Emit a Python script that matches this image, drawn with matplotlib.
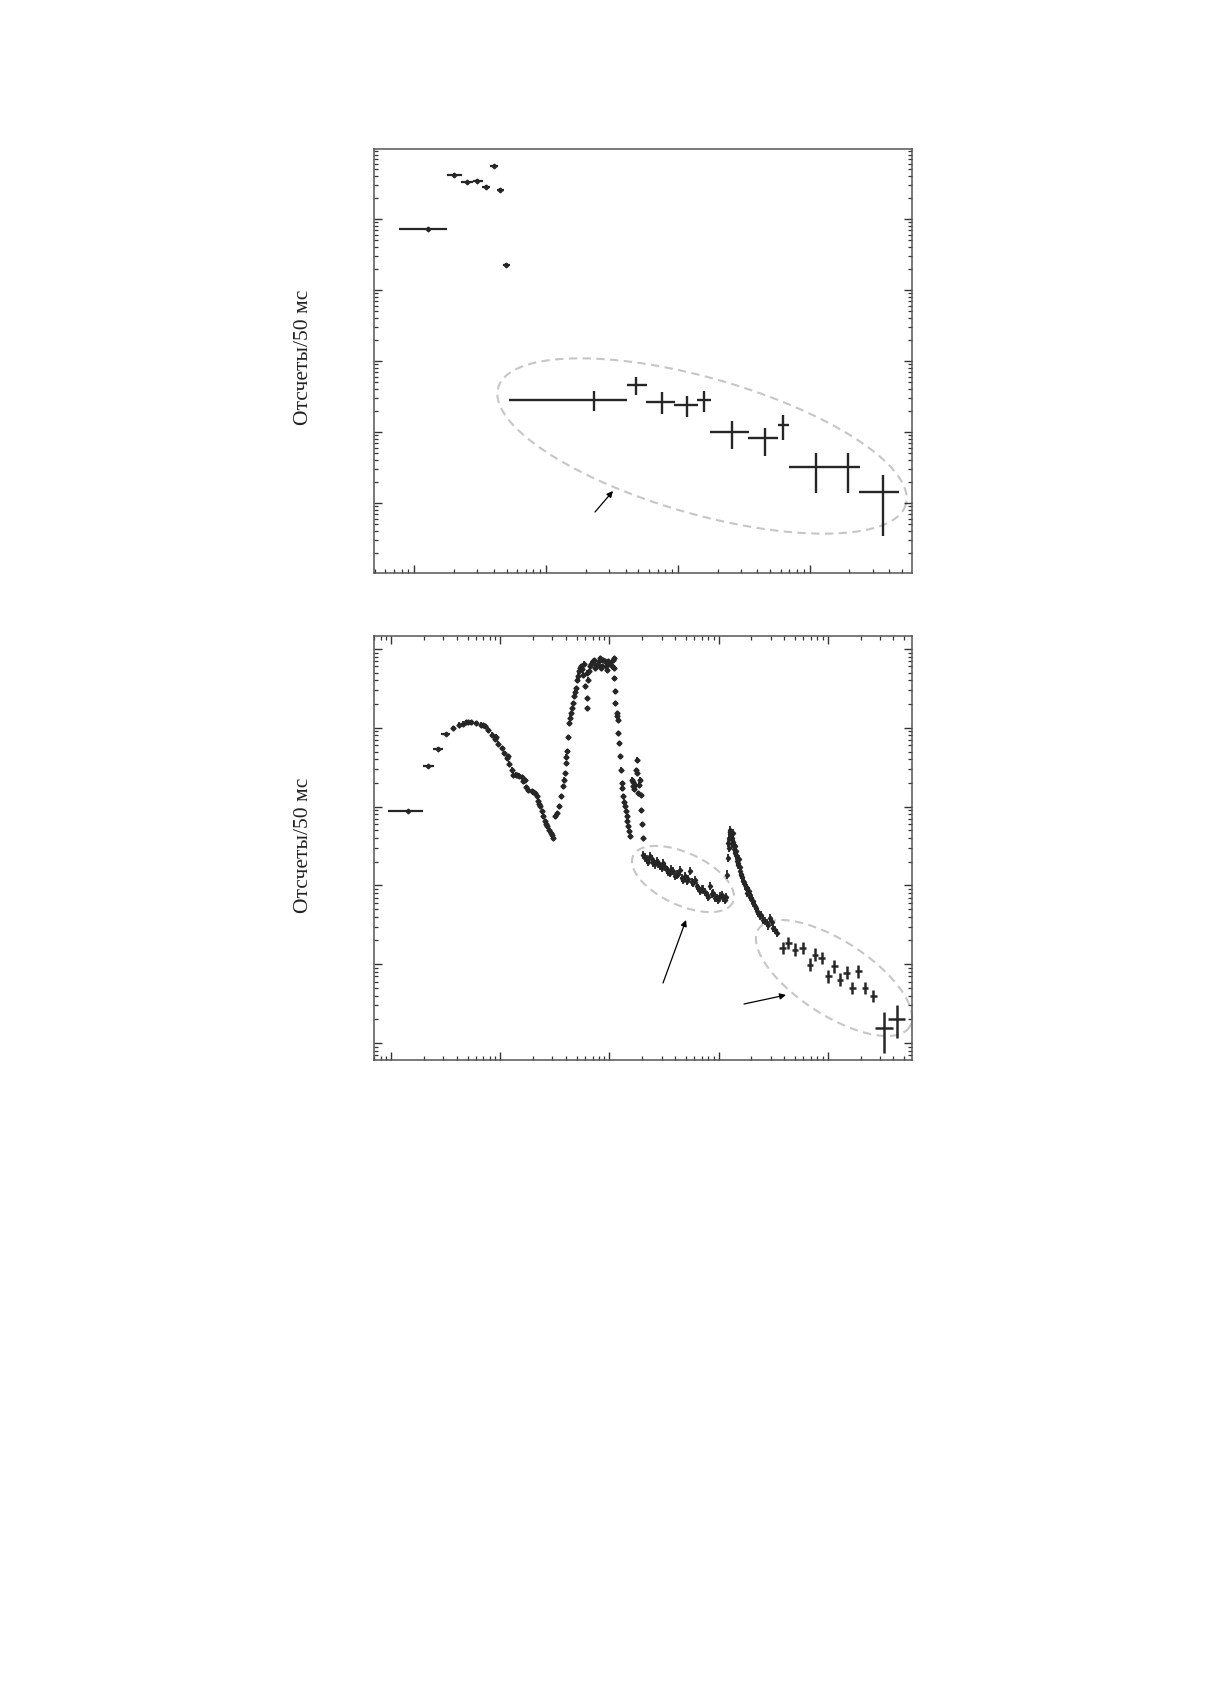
import numpy as np
import matplotlib
matplotlib.use('Agg')
import matplotlib.pyplot as plt
from matplotlib.ticker import LogLocator, NullFormatter

# ---- top panel: bright bins
top_x = [1.27, 2.01, 2.49, 3.0, 3.49, 4.02, 4.49, 4.98]
top_xlo = [0.768, 1.76, 2.24, 2.77, 3.24, 3.75, 4.21, 4.68]
top_xhi = [1.78, 2.29, 2.77, 3.30, 3.75, 4.33, 4.79, 5.31]
top_y = [72300, 421000, 329000, 346000, 285000, 552000, 259000, 22500]

# ---- top panel: circled tail
tail_x = [23.0, 48.0, 75.2, 116.4, 157.5, 258, 457, 629, 1114, 1959, 3573]
tail_xlo = [5.25, 40.8, 56.9, 93.3, 138.7, 175, 341.5, 571, 695, 1535, 2376]
tail_xhi = [40.8, 57.9, 94.9, 142.6, 177, 343.6, 577, 699, 1535, 2404, 4777]
tail_y = [285, 459, 267, 240, 283, 101, 81.5, 125.6, 32.4, 32.4, 14.4]
tail_ylo = [200, 332, 180, 164, 189, 57.7, 45.5, 78, 13.8, 13.8, 3.46]
tail_yhi = [374, 589, 362, 324, 374, 141.5, 113.7, 173.4, 50.1, 50.1, 25.1]

# ---- bottom panel: wide first bins
wide_x = [1.43, 2.18, 2.70, 3.17]
wide_xlo = [0.94, 1.96, 2.43, 2.88]
wide_xhi = [1.96, 2.46, 3.0, 3.45]
wide_y = [872, 3245, 5430, 8340]

# ---- bottom panel: main light curve
main_x = [3.70, 4.20, 4.81, 5.38, 5.97, 6.64, 7.22, 7.75, 8.32, 8.93, 9.57, 10.3,
          10.9, 11.4, 12.1, 12.7, 13.1, 13.8, 14.8, 15.7, 16.2, 17.1, 18.0, 19.4,
          20.8, 21.5, 22.3, 23.1, 23.9, 24.7, 25.6, 26.6, 27.9, 28.9, 30.2,
          31.7, 33.2, 34.7, 35.9, 37.2, 38.3, 39.1, 39.9, 40.5, 41.9, 42.8, 44.4,
          46.0, 47.3, 49.0, 50.7, 52.9, 54.8, 57.5, 59.5, 61.7, 61.7, 63.9, 66.2,
          70.1, 73.6, 77.8, 81.7, 85.8, 90.8, 95.4, 99.5, 104.7, 110.7, 110.7,
          112.2, 112.2, 116.4, 120.5, 120.5, 123, 124.8, 126.7, 129.4, 133.8,
          138.6, 143.8, 148.8, 154.3, 159.9, 165.3, 171.3, 177.5, 179.9, 183.7,
          190, 193, 196, 199, 202,
          56, 58.5, 62.5, 65, 68, 72, 75, 80, 83, 88, 93, 97, 102, 107, 109,
          29.5, 26, 22.8, 19.9, 16.8, 14.3, 11.8, 9.2, 6.9, 5.1, 4.5,
          40.2, 43.5, 45.2, 48.2, 51.8, 53.8, 118, 131, 136, 141, 146, 151,
          163, 168, 174, 186]
main_y = [9940, 10950, 11740, 11740, 11510, 10950, 10450, 9460, 8170, 7210, 6290, 5540,
          4790, 4140, 3510, 2940, 2540, 2540, 2470, 2380, 2090, 1770, 1640, 1560,
          1490, 1350, 1170, 1010, 872, 753, 650, 562, 500, 462, 400,
          753, 829, 1010, 1352, 1811, 2200, 2670, 3570, 5040, 7640, 11500, 15400,
          20650, 25100, 32000, 40800, 52100, 60300, 47200, 33600, 23900, 17800, 40800, 60300,
          69800, 57400, 63100, 76900, 60300, 69800, 54700, 66400, 60300, 76900, 42900,
          29000, 20650, 15400, 12700, 8590, 6410, 4350, 2940, 1990, 1350,
          1010, 753, 562, 420, 2200, 1811, 1900, 3940, 2670, 1490,
          2200, 1400, 900, 600, 400,
          55000, 65000, 50000, 52000, 65000, 72000, 62000, 70000, 58000, 72000,
          60000, 70000, 65000, 72000, 58000,
          430, 600, 1090, 1520, 2180, 2510, 4400, 7700, 10700, 11900, 11300,
          4300, 13500, 17800, 28500, 46000, 57000, 14000, 1700, 1150, 880, 650, 490,
          2050, 1650, 2900, 1900]

# ---- bottom panel: plateau (first ellipse) and second flare
band_x = [204, 210, 219, 227, 235, 243, 252, 262, 271, 280, 290, 300, 311, 322, 334,
          346, 358, 370, 384, 398, 413, 428, 443, 458, 475, 492, 510, 528, 547, 566,
          587, 608, 630, 652, 676, 700, 724, 750, 778, 805, 834, 862, 894, 925, 961,
          995, 1030, 1066, 1104, 1135, 1169,
          1202, 1227, 1240, 1253, 1260, 1272, 1290, 1320, 1340, 1364, 1380, 1405,
          1420, 1440, 1466, 1500, 1535, 1571, 1600, 1650, 1684, 1750, 1811, 1837,
          1900, 1941, 2000, 2080, 2150, 2235, 2300, 2397, 2568, 2759, 2958, 3171, 3405,
          1230, 1265, 1280, 1310, 1330, 1350, 1390, 1430, 1460, 1520, 1560, 1620,
          1700, 1780, 1870, 1960, 2050, 2200, 2470, 2660, 2860, 3060, 3290]
band_y = [245, 225, 212, 200, 234, 215, 192, 185, 202, 190, 175, 168, 192, 170, 158,
          150, 144, 160, 151, 132, 137, 140, 158, 125, 118, 130, 113, 120, 151, 110,
          107, 118, 97.5, 92, 84.1, 90, 88.3, 82, 76.2, 72, 97.5, 78, 80.1, 70, 69.2,
          66, 72.8, 75, 69.2, 66, 70.6,
          137, 223, 400, 298, 450, 509, 420, 380, 340, 462, 290, 316,
          260, 240, 202, 180, 214, 151, 140, 128, 113, 100, 92.7, 80.5,
          85, 76.2, 70, 62.8, 55, 46.9, 45, 40.5, 36.7, 33.3, 38.5, 28.8, 24.9,
          350, 480, 470, 440, 400, 360, 330, 270, 230, 190, 170, 135,
          110, 95, 85, 72, 60, 52, 42, 35, 31, 34, 27]

# ---- bottom panel: late crosses (second ellipse)
late_x = [3870, 4359, 5016, 5900, 6890, 7650, 8820, 10140, 11500, 12980, 14930,
          16830, 19100, 21990, 26190]
late_y = [16.1, 18.6, 15.3, 16.1, 9.86, 13.2, 12.0, 7.02, 9.4, 6.36, 7.80,
          4.99, 8.13, 4.99, 3.92]
last_x = [33000, 42950]
last_xlo = [27000, 36000]
last_xhi = [40000, 51000]
last_y = [1.55, 2.03]
last_ylo = [0.74, 1.15]
last_yhi = [2.50, 3.00]

W, H = 1210, 1683
AW, AH = 538, 424
INK = '#262626'


def rel_err(v, f):
    v = np.asarray(v, float)
    return [v - v / f, v * f - v]


def lohi(v, lo, hi):
    v = np.asarray(v, float)
    return [v - np.asarray(lo), np.asarray(hi) - v]


def style(ax, xlim, ylim, top_ticks):
    ax.set_xscale('log')
    ax.set_yscale('log')
    ax.set_xlim(xlim)
    ax.set_ylim(ylim)
    for axis in (ax.xaxis, ax.yaxis):
        axis.set_major_locator(LogLocator(base=10, numticks=30))
        axis.set_minor_locator(LogLocator(base=10, subs=np.arange(2, 10), numticks=30))
        axis.set_major_formatter(NullFormatter())
        axis.set_minor_formatter(NullFormatter())
    ax.tick_params(which='both', direction='in', top=top_ticks, right=True,
                   bottom=True, left=True, labelbottom=False, labelleft=False,
                   color='#333333')
    ax.tick_params(which='major', length=5.5, width=1.0)
    ax.tick_params(which='minor', length=3.2, width=0.9)
    for s in ax.spines.values():
        s.set_color('#555555')
        s.set_linewidth(1.1)


def ellipse(ax, cx, cy, a, b, ang):
    # shape given in axes pixels (y down), drawn in axes fraction
    t = np.linspace(0, 2 * np.pi, 300)
    th = np.deg2rad(ang)
    px = cx + a * np.cos(t) * np.cos(th) - b * np.sin(t) * np.sin(th)
    py = cy + a * np.cos(t) * np.sin(th) + b * np.sin(t) * np.cos(th)
    ax.plot(px / AW, 1 - py / AH, transform=ax.transAxes, color='#c6c6c6',
            lw=1.5, ls=(0, (4, 2.6)), clip_on=False, zorder=1)


def arrow(ax, tail, head):
    ax.annotate('', xy=(head[0] / AW, 1 - head[1] / AH), xycoords='axes fraction',
                xytext=(tail[0] / AW, 1 - tail[1] / AH), textcoords='axes fraction',
                arrowprops=dict(arrowstyle='-|>', color='black', lw=0.9,
                                mutation_scale=9, shrinkA=0, shrinkB=0))


fig = plt.figure(figsize=(W / 100, H / 100), dpi=100)
ax1 = fig.add_axes([374 / W, 1 - 574 / H, AW / W, AH / H])
ax2 = fig.add_axes([374 / W, 1 - 1061 / H, AW / W, AH / H])

eb = dict(fmt='none', ecolor=INK, capsize=0)

# top panel
ax1.errorbar(top_x, top_y, xerr=lohi(top_x, top_xlo, top_xhi),
             yerr=rel_err(top_y, 1.05), elinewidth=1.6, **eb)
ax1.plot(top_x, top_y, 'D', ms=2.4, color=INK)
ax1.errorbar(tail_x, tail_y, xerr=lohi(tail_x, tail_xlo, tail_xhi),
             yerr=lohi(tail_y, tail_ylo, tail_yhi), elinewidth=1.7, **eb)
style(ax1, (0.494, 5960), (1.033, 9.68e5), False)
ellipse(ax1, 328, 297, 212, 68, 16)
arrow(ax1, (221, 363), (239, 342))

# bottom panel
ax2.errorbar(wide_x, wide_y, xerr=lohi(wide_x, wide_xlo, wide_xhi),
             yerr=rel_err(wide_y, 1.04), elinewidth=1.6, **eb)
ax2.plot(wide_x, wide_y, 'D', ms=2.4, color=INK)
ax2.errorbar(main_x, main_y, xerr=rel_err(main_x, 1.025), yerr=rel_err(main_y, 1.07),
             elinewidth=1.3, **eb)
ax2.plot(main_x, main_y, 'D', ms=2.6, color=INK)
ax2.errorbar(band_x, band_y, xerr=rel_err(band_x, 1.025), yerr=rel_err(band_y, 1.13),
             elinewidth=1.3, **eb)
ax2.plot(band_x, band_y, 'D', ms=2.2, color=INK)
ax2.errorbar(late_x, late_y, xerr=rel_err(late_x, 1.075), yerr=rel_err(late_y, 1.2),
             elinewidth=1.8, **eb)
ax2.errorbar(last_x, last_y, xerr=lohi(last_x, last_xlo, last_xhi),
             yerr=lohi(last_y, last_ylo, last_yhi), elinewidth=1.8, **eb)
style(ax2, (0.694, 59300), (0.608, 1.462e5), True)
ellipse(ax2, 309, 243, 55, 26, 25)
ellipse(ax2, 460, 342, 90, 37, 33)
arrow(ax2, (289, 347), (312, 284))
arrow(ax2, (370, 368), (412, 359))

for yc in (357, 845):
    fig.text(304 / W, 1 - yc / H, 'Отсчеты/50 мс', rotation=90, ha='center',
             va='center', fontsize=15.5, family=['Liberation Serif', 'DejaVu Serif'],
             color='#222222')

fig.savefig('out.png', dpi=100)
